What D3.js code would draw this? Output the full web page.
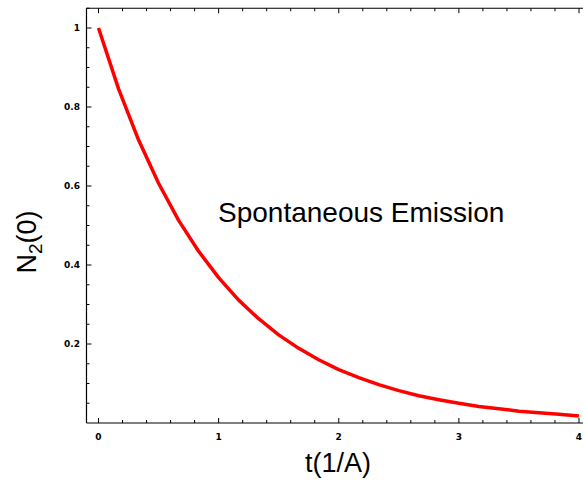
<!DOCTYPE html>
<html>
<head>
<meta charset="utf-8">
<script src="https://cdn.jsdelivr.net/npm/d3@7"></script>
<style>
  body { margin: 0; background: white; }
  svg { display: block; }
</style>
</head>
<body>
<div id="canvas"></div>
<script>
"use strict"

/* canvas size */
let svgWidth = 583;
let svgHeight = 483;

/* data (time in units of 1/A, population) */
let times = [0, 0.167, 0.333, 0.5, 0.667, 0.833, 1, 1.167, 1.333, 1.5, 1.667, 1.833,
    2, 2.167, 2.333, 2.5, 2.667, 2.833, 3, 3.167, 3.333, 3.5, 3.667, 3.833, 4];
let population = [1, 0.846, 0.717, 0.607, 0.513, 0.435, 0.368, 0.311, 0.264, 0.223, 0.189, 0.16,
    0.135, 0.115, 0.097, 0.082, 0.069, 0.059, 0.05, 0.042, 0.036, 0.03, 0.026, 0.022, 0.018];

/* tick values */
let xMajorTicks = [0, 1, 2, 3, 4];
let yMajorTicks = [0.2, 0.4, 0.6, 0.8, 1];
let yTickLabels = ["0.2", "0.4", "0.6", "0.8", "1"];

let svg = d3.select("#canvas")
    .append("svg")
    .attr("width", svgWidth)
    .attr("height", svgHeight);

/* scales */
let xScale = d3.scaleLinear()
    .domain([0, 4])
    .range([98.5, 579]);

let yScale = d3.scaleLinear()
    .domain([0, 1])
    .range([423, 28]);

/* plot frame limits */
let xMin = -0.1, xMax = 4.1;
let yMin = 0, yMax = 1.05;

/* frame lines (left, bottom, top, right) */
let frame = svg.append("g")
    .attr("stroke", "black")
    .attr("stroke-width", 1.2);

frame.append("line")
    .attr("x1", xScale(xMin)).attr("y1", yScale(yMin))
    .attr("x2", xScale(xMin)).attr("y2", yScale(yMax));
frame.append("line")
    .attr("x1", xScale(xMin)).attr("y1", yScale(yMin))
    .attr("x2", xScale(xMax)).attr("y2", yScale(yMin));
frame.append("line")
    .attr("x1", xScale(xMin)).attr("y1", yScale(yMax))
    .attr("x2", xScale(xMax)).attr("y2", yScale(yMax));
frame.append("line")
    .attr("x1", xScale(xMax)).attr("y1", yScale(yMin))
    .attr("x2", xScale(xMax)).attr("y2", yScale(yMax));

/* x ticks: every 0.2, major every 1 (bottom and top, pointing inwards) */
for (let i = 0; i <= 20; i++) {
    let v = i * 0.2;
    let len = (i % 5 === 0) ? 5 : 3;
    frame.append("line")
        .attr("x1", xScale(v)).attr("y1", yScale(yMin))
        .attr("x2", xScale(v)).attr("y2", yScale(yMin) - len)
        .attr("stroke-width", 1);
    frame.append("line")
        .attr("x1", xScale(v)).attr("y1", yScale(yMax))
        .attr("x2", xScale(v)).attr("y2", yScale(yMax) + len)
        .attr("stroke-width", 1);
}

/* y ticks: every 0.05, major every 0.2 */
for (let i = 1; i <= 21; i++) {
    let v = i * 0.05;
    let len = (i % 4 === 0) ? 5 : 3;
    frame.append("line")
        .attr("x1", xScale(xMin)).attr("y1", yScale(v))
        .attr("x2", xScale(xMin) + len).attr("y2", yScale(v))
        .attr("stroke-width", 1);
    frame.append("line")
        .attr("x1", xScale(xMax)).attr("y1", yScale(v))
        .attr("x2", xScale(xMax) - len).attr("y2", yScale(v))
        .attr("stroke-width", 1);
}

/* tick labels */
svg.selectAll(".xlab")
    .data(xMajorTicks)
    .join("text")
    .attr("x", d => xScale(d))
    .attr("y", 440)
    .style("text-anchor", "middle")
    .style("font-family", "DejaVu Sans")
    .style("font-weight", "bold")
    .style("font-size", "9px")
    .text(d => d);

svg.selectAll(".ylab")
    .data(yMajorTicks)
    .join("text")
    .attr("x", 80)
    .attr("y", d => yScale(d) + 3)
    .style("text-anchor", "end")
    .style("font-family", "DejaVu Sans")
    .style("font-weight", "bold")
    .style("font-size", "9px")
    .text((d, i) => yTickLabels[i]);

/* the decay curve */
let line = d3.line()
    .x((d, i) => xScale(times[i]))
    .y(d => yScale(d));

svg.append("path")
    .datum(population)
    .attr("d", line)
    .attr("fill", "none")
    .attr("stroke", "#ff0000")
    .attr("stroke-width", 3.5)
    .attr("stroke-linejoin", "round");

/* axis labels */
svg.append("text")
    .attr("x", 338)
    .attr("y", 472)
    .style("text-anchor", "middle")
    .style("font-family", "Liberation Sans, Arial, sans-serif")
    .style("font-size", "27px")
    .text("t(1/A)");

let yLabel = svg.append("text")
    .attr("transform", "translate(36,242) rotate(-90)")
    .style("text-anchor", "middle")
    .style("font-family", "Liberation Sans, Arial, sans-serif")
    .style("font-size", "27px");
yLabel.append("tspan").text("N");
yLabel.append("tspan").attr("dy", 6).style("font-size", "19px").text("2");
yLabel.append("tspan").attr("dy", -6).text("(0)");

/* annotation */
svg.append("text")
    .attr("x", 218)
    .attr("y", 222)
    .style("font-family", "Liberation Sans, Arial, sans-serif")
    .style("font-size", "28px")
    .text("Spontaneous Emission");
</script>
</body>
</html>
